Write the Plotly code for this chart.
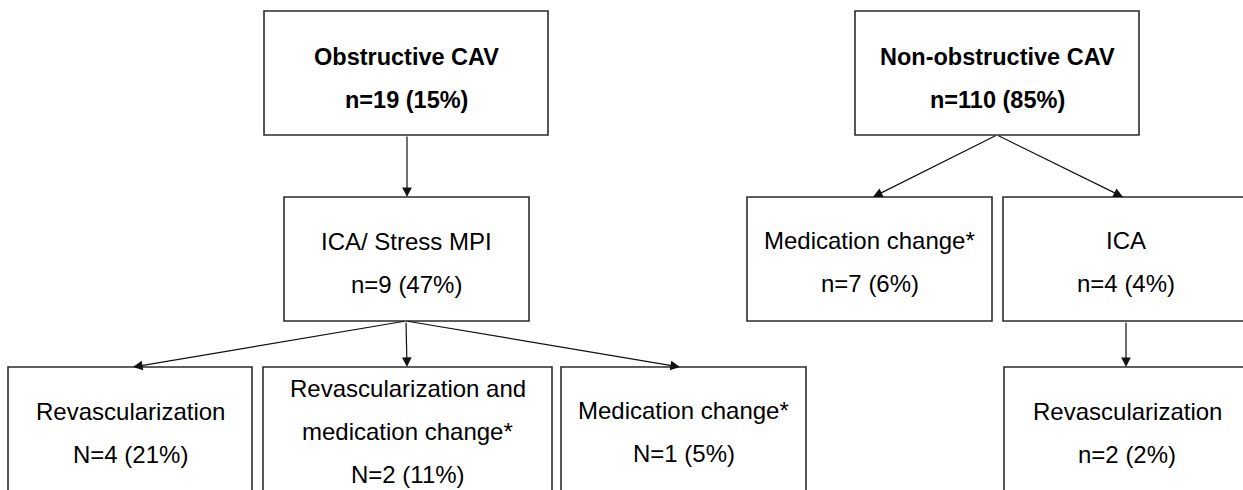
import plotly.graph_objects as go

# ---- data (text content of each node) ----
node_titles = [
    "Obstructive CAV",
    "ICA/ Stress MPI",
    "Revascularization",
    "Revascularization and<br>medication change*",
    "Medication change*",
    "Non-obstructive CAV",
    "Medication change*",
    "ICA",
    "Revascularization",
]
node_counts = ["n=19", "n=9", "N=4", "N=2", "N=1", "n=110", "n=7", "n=4", "n=2"]
node_percents = [15, 47, 21, 11, 5, 85, 6, 4, 2]
node_bold = [True, False, False, False, False, True, False, False, False]
edges = [(0, 1), (1, 2), (1, 3), (1, 4), (5, 6), (5, 7), (7, 8)]

# ---- layout geometry (pixel coordinates, y downward) ----
boxes = [  # x0, y0, x1, y1
    (264, 11, 548, 135),
    (284, 197, 529, 321),
    (8, 367, 252, 520),
    (263, 367, 552, 520),
    (561, 367, 806, 520),
    (855, 11, 1139, 135),
    (747, 197, 992, 321),
    (1003, 197, 1250, 321),
    (1004, 367, 1250, 520),
]
text_x = [406, 406.5, 130, 407.5, 683.5, 997, 869.5, 1126, 1127]
text_y0 = [57, 241, 411, 388, 410, 57, 240, 240, 411]
line_gap = 43
arrow_tail = [(407, 135), (406, 321), (406, 321), (406, 321), (997, 135), (997, 135), (1126, 321)]
arrow_head = [(407, 197), (133, 367), (407, 367), (680, 367), (873, 197), (1123, 197), (1126, 367)]

W, H = 1243, 490
fig = go.Figure()
fig.add_trace(go.Scatter(x=[0, W], y=[0, H], mode="markers", marker=dict(opacity=0), hoverinfo="skip", showlegend=False))

for (x0, y0, x1, y1) in boxes:
    fig.add_shape(type="rect", xref="x", yref="y", x0=x0, y0=y0, x1=x1, y1=y1,
                  line=dict(color="#2b2b2b", width=1.6), fillcolor="rgba(0,0,0,0)")

for i, title in enumerate(node_titles):
    lines = title.split("<br>") + [f"{node_counts[i]} ({node_percents[i]}%)"]
    for k, ln in enumerate(lines):
        txt = f"<b>{ln}</b>" if node_bold[i] else ln
        fig.add_annotation(x=text_x[i], y=text_y0[i] + k * line_gap, xref="x", yref="y",
                           text=txt, showarrow=False, xanchor="center", yanchor="middle",
                           font=dict(family="Liberation Sans, Arial", size=23.5 if node_bold[i] else 24,
                                     color="#000000"))

for (tx, ty), (hx, hy) in zip(arrow_tail, arrow_head):
    fig.add_annotation(x=hx, y=hy, ax=tx, ay=ty, xref="x", yref="y", axref="x", ayref="y",
                       text="", showarrow=True, arrowhead=2, arrowsize=1.6, arrowwidth=1.2,
                       arrowcolor="#111111", standoff=0)

fig.update_xaxes(range=[0, W], visible=False, fixedrange=True)
fig.update_yaxes(range=[H, 0], visible=False, fixedrange=True)
fig.update_layout(width=W, height=H, margin=dict(l=0, r=0, t=0, b=0),
                  plot_bgcolor="white", paper_bgcolor="white", showlegend=False)

fig.write_html("out.html", config={"displayModeBar": False},
               post_script="document.body.style.margin='0';document.body.style.overflow='hidden';")
